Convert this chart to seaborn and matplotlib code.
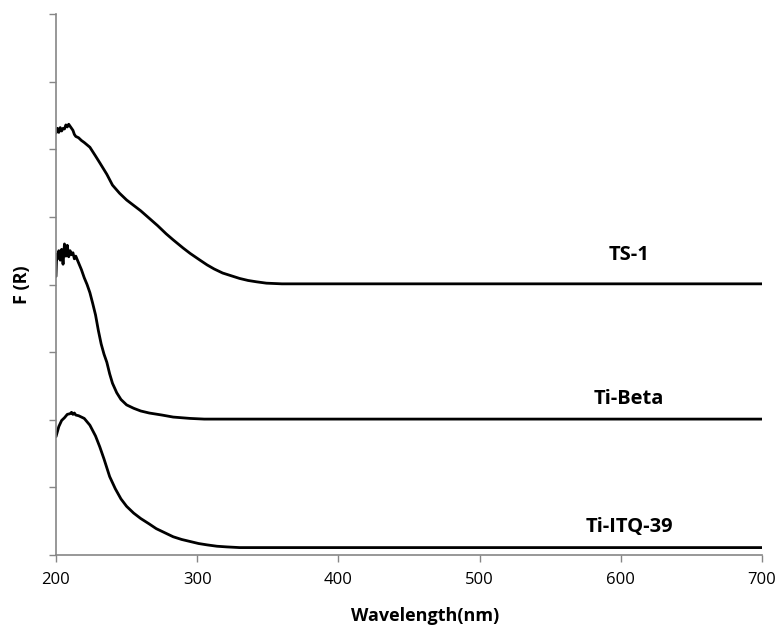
import numpy as np
import pandas as pd
import seaborn as sns
import matplotlib.pyplot as plt

# UV-Vis DR spectra (arbitrary units, stacked)
ts1_wl = [200, 201, 202, 203, 204, 205, 206, 207, 208, 209, 210, 211, 212, 213, 214,
          216, 218, 220, 224, 228, 231, 236, 240, 245, 250, 255, 260, 266, 272,
          278, 283, 290, 295, 302, 307, 312, 318, 324, 330, 336, 342, 349, 360,
          400, 500, 600, 700]
ts1_val = [6.24, 6.31, 6.25, 6.32, 6.27, 6.31, 6.30, 6.36, 6.33, 6.37, 6.34, 6.31, 6.28, 6.22, 6.19,
           6.17, 6.13, 6.10, 6.03, 5.90, 5.80, 5.63, 5.47, 5.35, 5.25, 5.17, 5.09, 4.98, 4.87,
           4.75, 4.66, 4.54, 4.46, 4.36, 4.29, 4.23, 4.17, 4.13, 4.09, 4.06, 4.04, 4.02, 4.01,
           4.01, 4.01, 4.01, 4.01]

beta_wl = [200, 200.5, 201, 202, 203, 204, 205, 206, 207, 208, 209, 210, 211, 212, 213,
           214, 216, 218, 220, 222, 224, 226, 228, 230, 232, 234, 236, 238, 240, 243,
           246, 250, 255, 260, 266, 275, 283, 295, 305, 400, 500, 600, 700]
beta_val = [4.12, 4.45, 4.38, 4.50, 4.36, 4.52, 4.30, 4.60, 4.42, 4.58, 4.41, 4.50, 4.44, 4.47, 4.38,
            4.42, 4.32, 4.22, 4.10, 4.00, 3.88, 3.72, 3.55, 3.32, 3.12, 2.97, 2.85, 2.68, 2.54, 2.40,
            2.30, 2.22, 2.17, 2.13, 2.10, 2.07, 2.04, 2.02, 2.01, 2.01, 2.01, 2.01, 2.01]

itq_wl = [200, 202, 204, 206, 208, 210, 211, 212, 213, 214, 216, 218, 220, 224, 228,
          231, 234, 238, 242, 246, 250, 255, 260, 266, 271, 277, 283, 289, 295, 301,
          307, 314, 321, 330, 400, 500, 600, 700]
itq_val = [1.75, 1.90, 1.99, 2.03, 2.08, 2.09, 2.11, 2.08, 2.10, 2.07, 2.06, 2.04, 2.02, 1.92, 1.76,
           1.60, 1.42, 1.16, 0.98, 0.83, 0.72, 0.62, 0.54, 0.46, 0.39, 0.33, 0.27, 0.23, 0.20, 0.17,
           0.15, 0.13, 0.12, 0.11, 0.11, 0.11, 0.11, 0.11]

samples = ["TS-1", "Ti-Beta", "Ti-ITQ-39"]
label_pos = [(606, 4.44), (606, 2.31), (606, 0.41)]

df = pd.concat([
    pd.DataFrame({"wl": ts1_wl, "F": ts1_val, "sample": "TS-1"}),
    pd.DataFrame({"wl": beta_wl, "F": beta_val, "sample": "Ti-Beta"}),
    pd.DataFrame({"wl": itq_wl, "F": itq_val, "sample": "Ti-ITQ-39"}),
])

sns.set_style("white")
plt.rcParams["font.family"] = ["Open Sans", "DejaVu Sans"]
plt.rcParams["text.color"] = "black"
plt.rcParams["axes.labelcolor"] = "black"

fig = plt.figure(figsize=(7.81, 6.31), dpi=100)
ax = fig.add_axes([0.0717, 0.1204, 0.904, 0.8574])

sns.lineplot(data=df, x="wl", y="F", hue="sample", units="sample", estimator=None,
             palette={s: "black" for s in samples}, linewidth=2.0, legend=False, ax=ax)

for s, (x, y) in zip(samples, label_pos):
    ax.text(x, y, s, ha="center", va="center", fontsize=14.5, fontweight="bold", color="black")

ax.set_xlim(200, 700)
ax.set_ylim(0, 8)
ax.set_xticks(range(200, 701, 100))
ax.set_yticks(range(0, 9))
ax.set_yticklabels([])
ax.tick_params(axis="x", labelsize=12, length=5, width=1, color="#868686", labelcolor="black",
               direction="out", bottom=True, pad=7)
ax.tick_params(axis="y", length=5, width=1, color="#868686", direction="out", left=True)
for side in ["top", "right"]:
    ax.spines[side].set_visible(False)
for side in ["left", "bottom"]:
    ax.spines[side].set_color("#868686")
    ax.spines[side].set_linewidth(1.2)

ax.set_xlabel("Wavelength(nm)", fontsize=13, fontweight="bold")
ax.set_ylabel("F (R)", fontsize=13, fontweight="bold")
ax.xaxis.set_label_coords(0.523, -0.113)
ax.yaxis.set_label_coords(-0.048, 0.50)
ax.xaxis.label.set_va("center")
ax.yaxis.label.set_va("center")

fig.savefig("out.png", dpi=100)
